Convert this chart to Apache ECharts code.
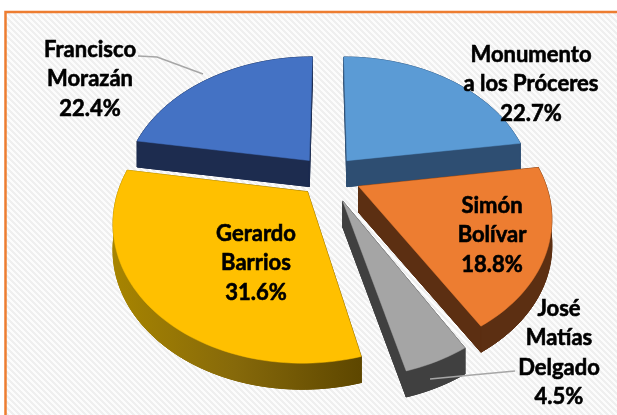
<!DOCTYPE html>
<html>
<head>
<meta charset="utf-8">
<script src="https://cdn.jsdelivr.net/npm/echarts@6/dist/echarts.min.js"></script>
<style>
  html, body { margin: 0; padding: 0; background: #fff; }
  #chart { width: 617px; height: 415px; }
</style>
</head>
<body>
<div id="chart"></div>
<script>
// datos del gráfico
const names = ['Monumento\na los Próceres', 'Simón\nBolívar', 'José\nMatías\nDelgado', 'Gerardo\nBarrios', 'Francisco\nMorazán'];
const shares = [22.7, 18.8, 4.5, 31.6, 22.4];
const topColors = ['#5b9bd5', '#ed7d31', '#a5a5a5', '#ffc000', '#4472c4'];

// geometría del pastel 3D (elipse con algo de perspectiva)
const CX = 328, CY = 176, SX = 185, SY = 130, PERSP = 0.2, DEPTH = 26;
const explode = [0.16, 0.18, 0.2, 0.16, 0.16];
const labelPos = [[531, 84], [492, 235], [559, 353], [256, 263], [90, 79]];
const leaders = [null, null, [[430, 379], [472, 375], [515, 371]], null, [[138, 56], [157, 57], [203, 74]]];

const sideColors = [
  '#2e4e72', '#5c2f12', '#404040',
  new echarts.graphic.LinearGradient(110, 0, 360, 0, [
    { offset: 0, color: '#a88500' },
    { offset: 0.5, color: '#86690a' },
    { offset: 1, color: '#5e4700' }
  ], true),
  '#1d2c4f'
];

function proj(mx, my) {
  const p = 1 / (1 - my * PERSP);
  return [CX + mx * p * SX, CY + my * p * SY];
}

function down(pts) {
  return pts.map(p => [p[0], p[1] + DEPTH]);
}

const total = shares.reduce((a, b) => a + b, 0);

function renderItem(params, api) {
  const i = params.dataIndex;
  let before = 0;
  for (let j = 0; j < i; j++) before += shares[j];
  const t0 = before / total * Math.PI * 2;
  const t1 = (before + api.value(0)) / total * Math.PI * 2;
  const tm = (t0 + t1) / 2;
  const ax = explode[i] * Math.sin(tm), ay = -explode[i] * Math.cos(tm);
  const steps = Math.max(4, Math.ceil((t1 - t0) / 0.03));
  const arc = [];
  for (let k = 0; k <= steps; k++) {
    const t = t0 + (t1 - t0) * k / steps;
    arc.push(proj(ax + Math.sin(t), ay - Math.cos(t)));
  }
  const apex = proj(ax, ay);
  const top = [apex].concat(arc);
  const side = sideColors[i];
  const sideStyle = { fill: side, stroke: side, lineWidth: 1 };
  const last = arc[arc.length - 1];

  const children = [
    { type: 'polygon', z2: 1, shape: { points: down(top) }, style: sideStyle },
    { type: 'polygon', z2: 1, shape: { points: arc.concat(down(arc).reverse()) }, style: sideStyle },
    { type: 'polygon', z2: 1, shape: { points: [apex, arc[0], [arc[0][0], arc[0][1] + DEPTH], [apex[0], apex[1] + DEPTH]] }, style: sideStyle },
    { type: 'polygon', z2: 1, shape: { points: [apex, last, [last[0], last[1] + DEPTH], [apex[0], apex[1] + DEPTH]] }, style: sideStyle },
    { type: 'polygon', z2: 10, shape: { points: top }, style: { fill: topColors[i], stroke: topColors[i], lineWidth: 0.5 } },
    {
      type: 'text', z2: 20,
      x: labelPos[i][0], y: labelPos[i][1],
      style: {
        text: names[i] + '\n' + api.value(0).toFixed(1) + '%',
        fill: '#000',
        stroke: '#000',
        lineWidth: 0.6,
        font: 'bold 22px Lato',
        lineHeight: 29.5,
        align: 'center',
        verticalAlign: 'middle'
      }
    }
  ];
  if (leaders[i]) {
    children.push({
      type: 'polyline', z2: 15,
      shape: { points: leaders[i] },
      style: { stroke: '#a6a6a6', lineWidth: 1.5, fill: null }
    });
  }
  return { type: 'group', children: children };
}

// fondo rayado
function stripePattern() {
  const n = 6;
  const c = document.createElement('canvas');
  c.width = n; c.height = n;
  const ctx = c.getContext('2d');
  const img = ctx.createImageData(n, n);
  for (let y = 0; y < n; y++) {
    for (let x = 0; x < n; x++) {
      const on = (((x - y) % n) + n) % n < 3;
      const v = on ? 239 : 252;
      const k = (y * n + x) * 4;
      img.data[k] = v; img.data[k + 1] = v; img.data[k + 2] = v; img.data[k + 3] = 255;
    }
  }
  ctx.putImageData(img, 0, 0);
  return c;
}

const chart = echarts.init(document.getElementById('chart'));

chart.setOption({
  backgroundColor: '#fff',
  animation: false,
  graphic: [{
    type: 'rect',
    z: -10,
    shape: { x: 5.5, y: 12, width: 640, height: 440 },
    style: {
      fill: { image: stripePattern(), repeat: 'repeat' },
      stroke: '#ed7d31',
      lineWidth: 2.5
    }
  }],
  series: [{
    type: 'custom',
    coordinateSystem: 'none',
    renderItem: renderItem,
    data: shares.map((v, i) => ({ name: names[i], value: [v] }))
  }]
});
</script>
</body>
</html>
